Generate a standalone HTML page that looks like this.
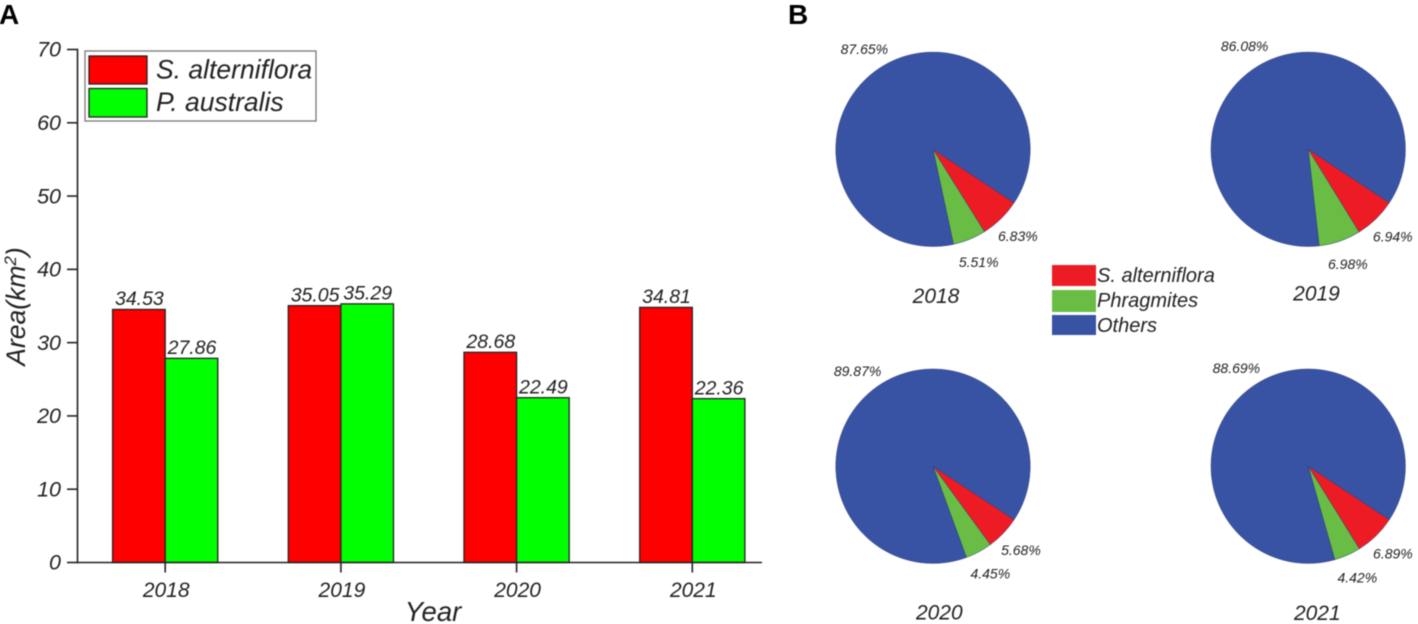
<!DOCTYPE html>
<html lang="en">
<head>
<meta charset="utf-8">
<title>Area and composition of S. alterniflora and P. australis</title>
<style>
html,body{margin:0;padding:0;background:#fff;width:1418px;height:624px;overflow:hidden}
svg{display:block}
text{font-family:"Liberation Sans",Arial,sans-serif;font-style:italic;fill:#222}
</style>
</head>
<body>
<svg id="fig" width="1418" height="624" viewBox="0 0 1418 624" xmlns="http://www.w3.org/2000/svg">
  <g id="root" style="filter:blur(0.45px)">
    <text x="-1" y="24" font-size="28" font-weight="bold" style="font-style:normal;fill:#000">A</text>
    <text x="788" y="24" font-size="28" font-weight="bold" style="font-style:normal;fill:#000">B</text>
    <g id="bars"></g>
    <g id="axes"></g>
    <text transform="translate(25,306.5) rotate(-90)" text-anchor="middle" font-size="26.5">Area(km<tspan dy="-9" font-size="17">2</tspan><tspan dy="9">)</tspan></text>
    <text x="433" y="621" text-anchor="middle" font-size="27.5">Year</text>
    <g>
      <rect x="85" y="51" width="231" height="70" fill="#fff" stroke="#777" stroke-width="1.3"/>
      <rect x="89" y="56" width="58" height="28" fill="#ff0000" stroke="#222" stroke-width="1.3"/>
      <rect x="89" y="88.500" width="58" height="28.500" fill="#00ff00" stroke="#222" stroke-width="1.3"/>
      <text x="156" y="78.500" font-size="26.500">S. alterniflora</text>
      <text x="156" y="111" font-size="26.500">P. australis</text>
    </g>
    <g id="pies"></g>
    <g>
      <rect x="1052" y="265" width="44" height="21" fill="#ed1c24"/>
      <rect x="1052" y="290" width="44" height="22" fill="#69bd45"/>
      <rect x="1052" y="315" width="44" height="20" fill="#3953a4"/>
      <text x="1097" y="282" font-size="20">S. alterniflora</text>
      <text x="1097" y="307" font-size="20">Phragmites</text>
      <text x="1097" y="332" font-size="20">Others</text>
    </g>
  </g>
</svg>
<script>
var categories = ['2018', '2019', '2020', '2021'];
var sAlterniflora = [34.53, 35.05, 28.68, 34.81];
var pAustralis = [27.86, 35.29, 22.49, 22.36];
var yTicks = [0, 10, 20, 30, 40, 50, 60, 70];

var pieYears = ['2018', '2019', '2020', '2021'];
var pieSAlterniflora = [6.83, 6.94, 5.68, 6.89];
var piePhragmites = [5.51, 6.98, 4.45, 4.42];
var pieOthers = [87.65, 86.08, 89.87, 88.69];

var NS = 'http://www.w3.org/2000/svg';
function mk(parent, tag, attrs, txt) {
  var el = document.createElementNS(NS, tag);
  for (var k in attrs) el.setAttribute(k, attrs[k]);
  if (txt !== undefined) el.textContent = txt;
  parent.appendChild(el);
  return el;
}

/* bar chart scales */
var plotY0 = 562.5, plotY70 = 49.5, axisX = 77.5;
var catStart = 165.2, catStep = 175.7, barW = 52.6;
function yScale(v) { return plotY0 - (v / 70) * (plotY0 - plotY70); }
function xScale(i) { return catStart + i * catStep; }

var barsG = document.getElementById('bars');
var axesG = document.getElementById('axes');

function drawBar(i, vals, isRed) {
  var x = isRed ? xScale(i) - barW : xScale(i);
  var top = yScale(vals[i]);
  var r = mk(barsG, 'rect', {
    x: x, y: top, width: barW, height: plotY0 - top,
    fill: isRed ? '#ff0000' : '#00ff00', stroke: '#222', 'stroke-width': 1.3
  });
  
  
  var t = mk(barsG, 'text', {
    x: x + barW / 2 + 0.5, y: top - 4.2, 'text-anchor': 'middle', 'font-size': 19.5
  }, vals[i].toFixed(2));
  
  
}
categories.forEach(function (c, i) {
  drawBar(i, sAlterniflora, true);
  drawBar(i, pAustralis, false);
});

var yLine = mk(axesG, 'line', { x1: axisX, x2: axisX, y1: plotY70 - 0.7, y2: plotY0 + 0.7, stroke: '#222', 'stroke-width': 1.6 });


var xLine = mk(axesG, 'line', { x1: axisX, x2: 762, y1: plotY0, y2: plotY0, stroke: '#222', 'stroke-width': 1.6 });



yTicks.forEach(function (v) {
  var y = yScale(v);
  var tk = mk(axesG, 'line', { x1: 67, x2: axisX, y1: y, y2: y, stroke: '#222', 'stroke-width': 1.6 });
  
  
  var lb = mk(axesG, 'text', { x: 61, y: y + 7.2, 'text-anchor': 'end', 'font-size': 21.5 }, String(v));
  
  
});
categories.forEach(function (c, i) {
  var x = xScale(i);
  var tk = mk(axesG, 'line', { x1: x, x2: x, y1: plotY0, y2: 572.5, stroke: '#222', 'stroke-width': 1.6 });
  
  
  var lb = mk(axesG, 'text', { x: x + 1, y: 597, 'text-anchor': 'middle', 'font-size': 21 }, c);
  
  
});

/* pies */
var pieR = 97.2, labelR = 121.5, startDeg = 123.4;
var pieColors = ['#ed1c24', '#69bd45', '#3953a4'];
var sliceNames = ['s-alterniflora', 'phragmites', 'others'];
function pieCx(i) { return i % 2 === 0 ? 933 : 1308.2; }
function pieCy(i) { return i < 2 ? 149.3 : 466.2; }
function titleX(i) { return i === 0 ? 936 : i === 1 ? 1316.5 : i === 2 ? 939.3 : 1317.3; }
function titleY(i) { return i === 0 ? 303 : i === 1 ? 300.7 : i === 2 ? 619.3 : 620; }
function polar(cx, cy, r, deg) {
  var a = deg * Math.PI / 180;
  return [cx + r * Math.sin(a), cy - r * Math.cos(a)];
}
var piesG = document.getElementById('pies');
pieYears.forEach(function (yr, i) {
  var cx = pieCx(i), cy = pieCy(i);
  var g = mk(piesG, 'g', {});
  
  
  var vals = [pieSAlterniflora[i], piePhragmites[i], pieOthers[i]];
  var total = vals[0] + vals[1] + vals[2];
  var ang = startDeg;
  vals.forEach(function (v, j) {
    var sweep = v / total * 360;
    var p0 = polar(cx, cy, pieR, ang), p1 = polar(cx, cy, pieR, ang + sweep);
    var d = 'M' + cx + ' ' + cy + 'L' + p0[0] + ' ' + p0[1] +
      'A' + pieR + ' ' + pieR + ' 0 ' + (sweep > 180 ? 1 : 0) + ' 1 ' + p1[0] + ' ' + p1[1] + 'Z';
    var s = mk(g, 'path', { d: d, fill: pieColors[j], stroke: '#2b3a78', 'stroke-width': 0.5 });
    
    
    var lp = polar(cx, cy, labelR, ang + sweep / 2);
    var t = mk(g, 'text', { x: lp[0], y: lp[1] + 5, 'text-anchor': 'middle', 'font-size': 14 }, v.toFixed(2) + '%');
    
    
    ang += sweep;
  });
  var ttl = mk(g, 'text', { x: titleX(i), y: titleY(i), 'text-anchor': 'middle', 'font-size': 21 }, yr);
  
  
});
</script>
</body>
</html>
